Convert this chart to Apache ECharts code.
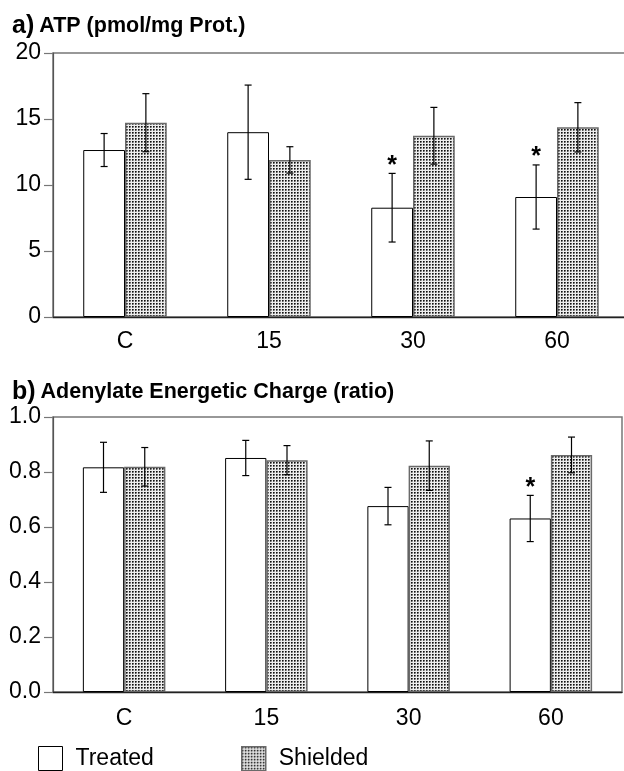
<!DOCTYPE html>
<html>
<head>
<meta charset="utf-8">
<script src="https://cdn.jsdelivr.net/npm/echarts@6/dist/echarts.min.js"></script>
<style>
html,body{margin:0;padding:0;background:#fff;overflow:hidden;width:624px;height:771px;}
#chart{width:640px;height:771px;}
</style>
</head>
<body>
<div id="chart"></div>
<script>
// ---- data ----
const categories = ['C', '15', '30', '60'];
const atpTreated = [12.65, 14.0, 8.28, 9.09];
const atpTreatedErr = [1.25, 3.57, 2.6, 2.43];
const atpShielded = [14.72, 11.9, 13.73, 14.37];
const atpShieldedErr = [2.2, 1.0, 2.15, 1.87];
const atpStars = [false, false, true, true];

const aecTreated = [0.817, 0.851, 0.676, 0.631];
const aecTreatedErr = [0.091, 0.064, 0.068, 0.084];
const aecShielded = [0.819, 0.843, 0.823, 0.862];
const aecShieldedErr = [0.07, 0.053, 0.09, 0.065];
const aecStars = [false, false, false, true];

const atpTicks = [0, 5, 10, 15, 20];
const aecTicks = [0, 0.2, 0.4, 0.6, 0.8, 1.0];

// ---- pattern ----
const pc = document.createElement('canvas');
pc.width = 3; pc.height = 3;
const pctx = pc.getContext('2d');
pctx.fillStyle = '#eeeeee'; pctx.fillRect(0, 0, 3, 3);
pctx.fillStyle = '#111'; pctx.fillRect(0, 0, 1, 1);
pctx.fillStyle = '#5a5a5a'; pctx.fillRect(1, 0, 1, 1); pctx.fillRect(0, 1, 1, 1);
pctx.fillStyle = '#a0a0a0'; pctx.fillRect(1, 1, 1, 1);
const dots = { image: pc, repeat: 'repeat' };

const FONT = "'Liberation Sans', Arial, Helvetica, sans-serif";
const BAR_FRAC = 0.29;

function errData(vals, errs, side, stars) {
  return vals.map((v, i) => [i, v, errs[i], side, stars && stars[i] ? 1 : 0]);
}

function renderErr(params, api) {
  const i = api.value(0), v = api.value(1), e = api.value(2), side = api.value(3), star = api.value(4);
  const c = api.coord([i, v]);
  const bw = api.size([1, 0])[0] * BAR_FRAC;
  const x = c[0] + (side ? 1 : -1) * bw / 2;
  const yt = api.coord([i, v + e])[1];
  const yb = api.coord([i, v - e])[1];
  const cap = 3.5;
  const st = { stroke: '#000', lineWidth: 1.2 };
  const ch = [
    { type: 'line', shape: { x1: x, y1: yt, x2: x, y2: yb }, style: st },
    { type: 'line', shape: { x1: x - cap, y1: yt, x2: x + cap, y2: yt }, style: st },
    { type: 'line', shape: { x1: x - cap, y1: yb, x2: x + cap, y2: yb }, style: st }
  ];
  if (star) {
    ch.push({ type: 'text', style: { text: '*', x: x, y: yt + 5, align: 'center', verticalAlign: 'bottom',
      font: "bold 25px " + FONT, fill: '#000' } });
  }
  return { type: 'group', children: ch };
}

const treatedStyle = { color: '#fff', borderColor: '#000', borderWidth: 1 };
const shieldedStyle = { color: dots, borderColor: '#6a6a6a', borderWidth: 1.5 };

function xAx(gi, margin) {
  return {
    type: 'category', gridIndex: gi, data: categories,
    axisLine: { lineStyle: { color: '#222', width: 1.3 } },
    axisTick: { length: 8, lineStyle: { color: '#777', width: 1.2 } },
    axisLabel: { color: '#000', fontSize: 23, fontFamily: FONT, margin: margin }
  };
}
function yAx(gi, ticks, fmt) {
  return {
    type: 'value', gridIndex: gi, min: ticks[0], max: ticks[ticks.length - 1],
    interval: ticks[1] - ticks[0],
    axisLine: { show: true, lineStyle: { color: '#555', width: 1.2 } },
    axisTick: { show: true, length: 9, lineStyle: { color: '#777', width: 1.2 } },
    splitLine: { show: false },
    axisLabel: { color: '#000', fontSize: 23, fontFamily: FONT, margin: 12, formatter: fmt }
  };
}

const titleRich = {
  a: { fontSize: 25, fontWeight: 'bold', fontFamily: FONT, color: '#000' },
  b: { fontSize: 21.5, fontWeight: 'bold', fontFamily: FONT, color: '#000' }
};

const option = {
  animation: false,
  backgroundColor: '#fff',
  title: [
    { text: '{a|a)} {b|ATP (pmol/mg Prot.)}', left: 12, top: 14, padding: 0,
      textStyle: { rich: titleRich } },
    { text: '{a|b)} {b|Adenylate Energetic Charge (ratio)}', left: 12, top: 380, padding: 0,
      textStyle: { rich: titleRich } }
  ],
  legend: [
    { data: [{ name: 'Treated', itemStyle: treatedStyle }], left: 38, top: 746, icon: 'rect', padding: 0,
      itemWidth: 24, itemHeight: 24, selectedMode: false,
      textStyle: { fontSize: 23, fontFamily: FONT, color: '#000', padding: [0, 0, 0, 8] } },
    { data: [{ name: 'Shielded', itemStyle: shieldedStyle }], left: 241, top: 746, icon: 'rect', padding: 0,
      itemWidth: 24, itemHeight: 24, selectedMode: false,
      textStyle: { fontSize: 23, fontFamily: FONT, color: '#000', padding: [0, 0, 0, 8] } }
  ],
  grid: [
    { left: 53, width: 576, top: 53, height: 264, show: true, borderColor: '#777', borderWidth: 1.5, backgroundColor: 'transparent' },
    { left: 53, width: 569, top: 417, height: 275, show: true, borderColor: '#777', borderWidth: 1.5, backgroundColor: 'transparent' }
  ],
  xAxis: [xAx(0, 13), xAx(1, 15)],
  yAxis: [yAx(0, atpTicks, v => String(v)), yAx(1, aecTicks, v => v.toFixed(1))],
  series: [
    { type: 'bar', name: 'Treated', xAxisIndex: 0, yAxisIndex: 0, data: atpTreated, barWidth: (BAR_FRAC * 100) + '%', barGap: '0%', itemStyle: treatedStyle },
    { type: 'bar', name: 'Shielded', xAxisIndex: 0, yAxisIndex: 0, data: atpShielded, barWidth: (BAR_FRAC * 100) + '%', barGap: '0%', itemStyle: shieldedStyle },
    { type: 'custom', xAxisIndex: 0, yAxisIndex: 0, renderItem: renderErr, data: errData(atpTreated, atpTreatedErr, 0, atpStars), z: 5 },
    { type: 'custom', xAxisIndex: 0, yAxisIndex: 0, renderItem: renderErr, data: errData(atpShielded, atpShieldedErr, 1, null), z: 5 },
    { type: 'bar', name: 'Treated', xAxisIndex: 1, yAxisIndex: 1, data: aecTreated, barWidth: (BAR_FRAC * 100) + '%', barGap: '0%', itemStyle: treatedStyle },
    { type: 'bar', name: 'Shielded', xAxisIndex: 1, yAxisIndex: 1, data: aecShielded, barWidth: (BAR_FRAC * 100) + '%', barGap: '0%', itemStyle: shieldedStyle },
    { type: 'custom', xAxisIndex: 1, yAxisIndex: 1, renderItem: renderErr, data: errData(aecTreated, aecTreatedErr, 0, aecStars), z: 5 },
    { type: 'custom', xAxisIndex: 1, yAxisIndex: 1, renderItem: renderErr, data: errData(aecShielded, aecShieldedErr, 1, null), z: 5 }
  ]
};

const chart = echarts.init(document.getElementById('chart'), null, { renderer: 'canvas' });
chart.setOption(option);
</script>
</body>
</html>
